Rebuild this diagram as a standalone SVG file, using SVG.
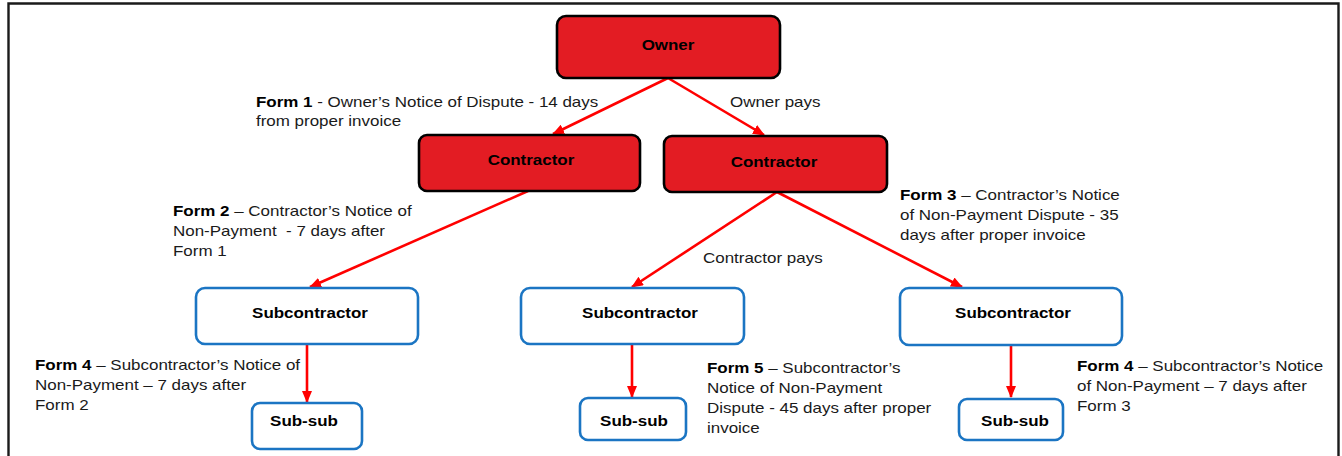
<svg xmlns="http://www.w3.org/2000/svg" width="1342" height="456" viewBox="0 0 1342 456">
<style>
text{font-family:"Liberation Sans",Arial,sans-serif;font-size:14.5px;fill:#1a1a1a;white-space:pre}
.lbl{font-weight:bold;text-anchor:middle;fill:#000}
.b{font-weight:bold;fill:#000}
.red{fill:#e31c23;stroke:#000;stroke-width:2.6}
.blue{fill:#fff;stroke:#1b75c3;stroke-width:2.6}
.con{stroke:#ff0000;stroke-width:2.6;fill:none;marker-end:url(#ah)}
</style>
<defs>
<marker id="ah" markerUnits="userSpaceOnUse" markerWidth="12" markerHeight="10" refX="11" refY="5" orient="auto">
<path d="M0,0 L12,5 L0,10 Z" fill="#ff0000"/>
</marker>
</defs>
<rect width="1342" height="456" fill="#fff"/>
<path d="M8.5,456 V3.5 H1338.5 V456" fill="none" stroke="#1a1a1a" stroke-width="2.4"/>
<g id="connectors">
<line class="con" x1="668" y1="78" x2="553" y2="134"/>
<line class="con" x1="668" y1="78" x2="764" y2="135"/>
<line class="con" x1="528" y1="191" x2="310" y2="287"/>
<line class="con" x1="777" y1="192" x2="632" y2="287"/>
<line class="con" x1="777" y1="192" x2="962" y2="287"/>
<line class="con" x1="307" y1="345" x2="307" y2="402"/>
<line class="con" x1="632" y1="345" x2="632" y2="397"/>
<line class="con" x1="1011" y1="345" x2="1011" y2="397"/>
</g>
<g id="owner"><rect class="red" x="557" y="16" width="223" height="62" rx="9"/><text class="lbl" transform="translate(668,50) scale(1.17 1)">Owner</text></g>
<g id="contractor1"><rect class="red" x="419" y="135" width="221" height="56" rx="8"/><text class="lbl" transform="translate(531,165) scale(1.17 1)">Contractor</text></g>
<g id="contractor2"><rect class="red" x="664" y="136" width="223" height="56" rx="8"/><text class="lbl" transform="translate(774,167) scale(1.17 1)">Contractor</text></g>
<g id="sub1"><rect class="blue" x="196" y="288" width="222" height="56" rx="9"/><text class="lbl" transform="translate(310,318) scale(1.17 1)">Subcontractor</text></g>
<g id="sub2"><rect class="blue" x="521" y="288" width="223" height="56" rx="9"/><text class="lbl" transform="translate(640,318) scale(1.17 1)">Subcontractor</text></g>
<g id="sub3"><rect class="blue" x="900" y="288" width="222" height="57" rx="9"/><text class="lbl" transform="translate(1013,318) scale(1.17 1)">Subcontractor</text></g>
<g id="subsub1"><rect class="blue" x="252" y="403" width="110" height="46" rx="8"/><text class="lbl" transform="translate(304,426) scale(1.17 1)">Sub-sub</text></g>
<g id="subsub2"><rect class="blue" x="580" y="398" width="106" height="42" rx="8"/><text class="lbl" transform="translate(634,426) scale(1.17 1)">Sub-sub</text></g>
<g id="subsub3"><rect class="blue" x="959" y="399" width="104" height="41" rx="8"/><text class="lbl" transform="translate(1015,426) scale(1.17 1)">Sub-sub</text></g>
<g id="labels">
<text transform="translate(256,107) scale(1.17 1)"><tspan x="0" y="0"><tspan class="b">Form 1</tspan> - Owner’s Notice of Dispute - 14 days</tspan><tspan x="0" y="19.5">from proper invoice</tspan></text>
<text transform="translate(730,107) scale(1.17 1)">Owner pays</text>
<text transform="translate(173,216) scale(1.17 1)"><tspan x="0" y="0"><tspan class="b">Form 2</tspan> – Contractor’s Notice of</tspan><tspan x="0" y="20">Non-Payment  - 7 days after</tspan><tspan x="0" y="40">Form 1</tspan></text>
<text transform="translate(900,200) scale(1.17 1)"><tspan x="0" y="0"><tspan class="b">Form 3</tspan> – Contractor’s Notice</tspan><tspan x="0" y="20">of Non-Payment Dispute - 35</tspan><tspan x="0" y="40">days after proper invoice</tspan></text>
<text transform="translate(703,263) scale(1.17 1)">Contractor pays</text>
<text transform="translate(35,370) scale(1.17 1)"><tspan x="0" y="0"><tspan class="b">Form 4</tspan> – Subcontractor’s Notice of</tspan><tspan x="0" y="20">Non-Payment – 7 days after</tspan><tspan x="0" y="40">Form 2</tspan></text>
<text transform="translate(707,373) scale(1.17 1)"><tspan x="0" y="0"><tspan class="b">Form 5</tspan> – Subcontractor’s</tspan><tspan x="0" y="20">Notice of Non-Payment</tspan><tspan x="0" y="40">Dispute - 45 days after proper</tspan><tspan x="0" y="60">invoice</tspan></text>
<text transform="translate(1077,371) scale(1.17 1)"><tspan x="0" y="0"><tspan class="b">Form 4</tspan> – Subcontractor’s Notice</tspan><tspan x="0" y="20">of Non-Payment – 7 days after</tspan><tspan x="0" y="40">Form 3</tspan></text>
</g>
</svg>
